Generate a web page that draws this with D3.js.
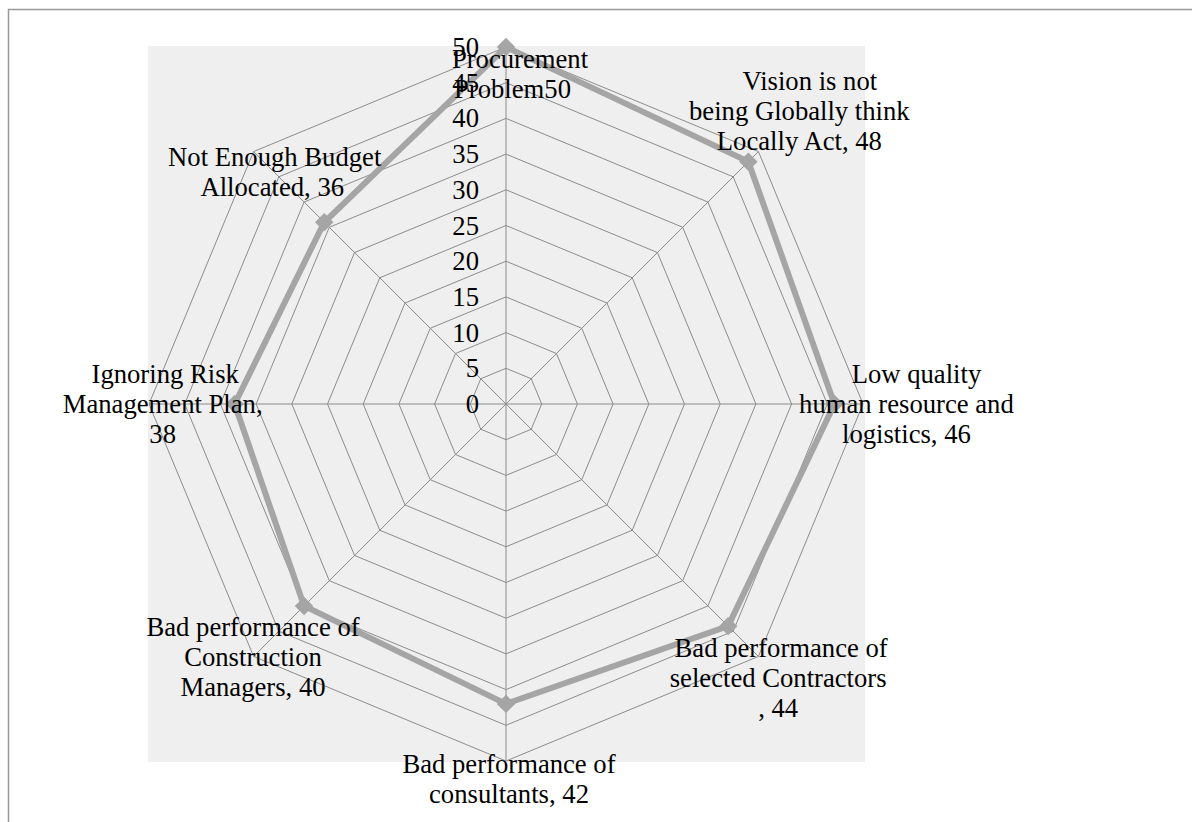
<!DOCTYPE html>
<html>
<head>
<meta charset="utf-8">
<script src="https://cdn.jsdelivr.net/npm/d3@7"></script>
<style>
  html, body { margin: 0; padding: 0; background: #ffffff; }
  svg { display: block; }
  text { font-family: "Liberation Serif", "Times New Roman", serif; fill: #000; }
</style>
</head>
<body>
<svg id="chart" width="1192" height="822"></svg>
<script>
// ---- data ----
const categories = [
  "Procurement Problem",
  "Vision is not being Globally think Locally Act",
  "Low quality human resource and logistics",
  "Bad performance of selected Contractors",
  "Bad performance of consultants",
  "Bad performance of Construction Managers",
  "Ignoring Risk Management Plan",
  "Not Enough Budget Allocated"
];
const values = [50, 48, 46, 44, 42, 40, 38, 36];
const labelLines = [
  ["Procurement", "Problem50"],
  ["Vision is not", "being Globally think", "Locally Act, 48"],
  ["Low quality", "human resource and", "logistics, 46"],
  ["Bad performance of", "selected Contractors", ", 44"],
  ["Bad performance of", "consultants, 42"],
  ["Bad performance of", "Construction", "Managers, 40"],
  ["Ignoring Risk", "Management Plan,", "38"],
  ["Not Enough Budget", "Allocated, 36"]
];
const tickValues = [0, 5, 10, 15, 20, 25, 30, 35, 40, 45, 50];

// ---- layout (positions / styles) ----
const cx = 506, cy = 404, R = 357;
const labelOffsets = [ // [dx, dy of first baseline relative to data point, first-line extra dx]
  [6.5, 21, 7.5], [51, -72, 10.5], [72, -21, 10], [50, 31, 3],
  [3, 69, 0], [-51, 30, 0], [-72, -21, 2.5], [-52, -56, 2.5]
];
const lineGap = 30;
const fontSize = 26.67;

const svg = d3.select("#chart");

// outer frame
svg.append("rect")
  .attr("x", 8.5).attr("y", 9.5).attr("width", 1300).attr("height", 1000)
  .attr("fill", "none").attr("stroke", "#999").attr("stroke-width", 1.5);

// plot background
svg.append("rect")
  .attr("x", 148).attr("y", 46).attr("width", 717).attr("height", 716)
  .attr("fill", "#efefef");

const r = d3.scaleLinear().domain([0, 50]).range([0, R]);
const n = categories.length;
const angle = i => i * 2 * Math.PI / n;
const px = (i, v) => cx + r(v) * Math.sin(angle(i));
const py = (i, v) => cy - r(v) * Math.cos(angle(i));

const g = svg.append("g");

// grid rings
tickValues.forEach(t => {
  if (t === 0) return;
  const pts = d3.range(n).map(i => [px(i, t), py(i, t)]);
  g.append("path")
    .attr("d", d3.line()(pts) + "Z")
    .attr("fill", "none").attr("stroke", "#8c8c8c").attr("stroke-width", 1);
});
// spokes
d3.range(n).forEach(i => {
  g.append("line")
    .attr("x1", cx).attr("y1", cy)
    .attr("x2", px(i, 50)).attr("y2", py(i, 50))
    .attr("stroke", "#8c8c8c").attr("stroke-width", 1);
});

// series line
const pts = values.map((v, i) => [px(i, v), py(i, v)]);
g.append("path")
  .attr("d", d3.line()(pts) + "Z")
  .attr("fill", "none").attr("stroke", "#a5a5a5")
  .attr("stroke-width", 6).attr("stroke-linejoin", "miter");

// markers
const sym = d3.symbol().type(d3.symbolSquare).size(170);
g.selectAll(".mk").data(values).enter().append("path")
  .attr("class", "mk")
  .attr("d", sym)
  .attr("transform", (v, i) => `translate(${px(i, v)},${py(i, v)}) rotate(45)`)
  .attr("fill", "#a5a5a5");

// tick labels
g.selectAll(".tick").data(tickValues).enter().append("text")
  .attr("class", "tick")
  .attr("x", 479)
  .attr("y", t => cy - r(t) + 9)
  .attr("text-anchor", "end")
  .attr("font-size", fontSize)
  .text(t => t);

// category labels
labelLines.forEach((lines, i) => {
  const [dx, dy, fdx] = labelOffsets[i];
  const x0 = px(i, values[i]) + dx;
  const y0 = py(i, values[i]) + dy;
  const t = g.append("text")
    .attr("text-anchor", "middle")
    .attr("font-size", fontSize);
  lines.forEach((ln, j) => {
    t.append("tspan")
      .attr("x", x0 + (j === 0 ? fdx : 0))
      .attr("y", y0 + j * lineGap)
      .text(ln);
  });
});
</script>
</body>
</html>
